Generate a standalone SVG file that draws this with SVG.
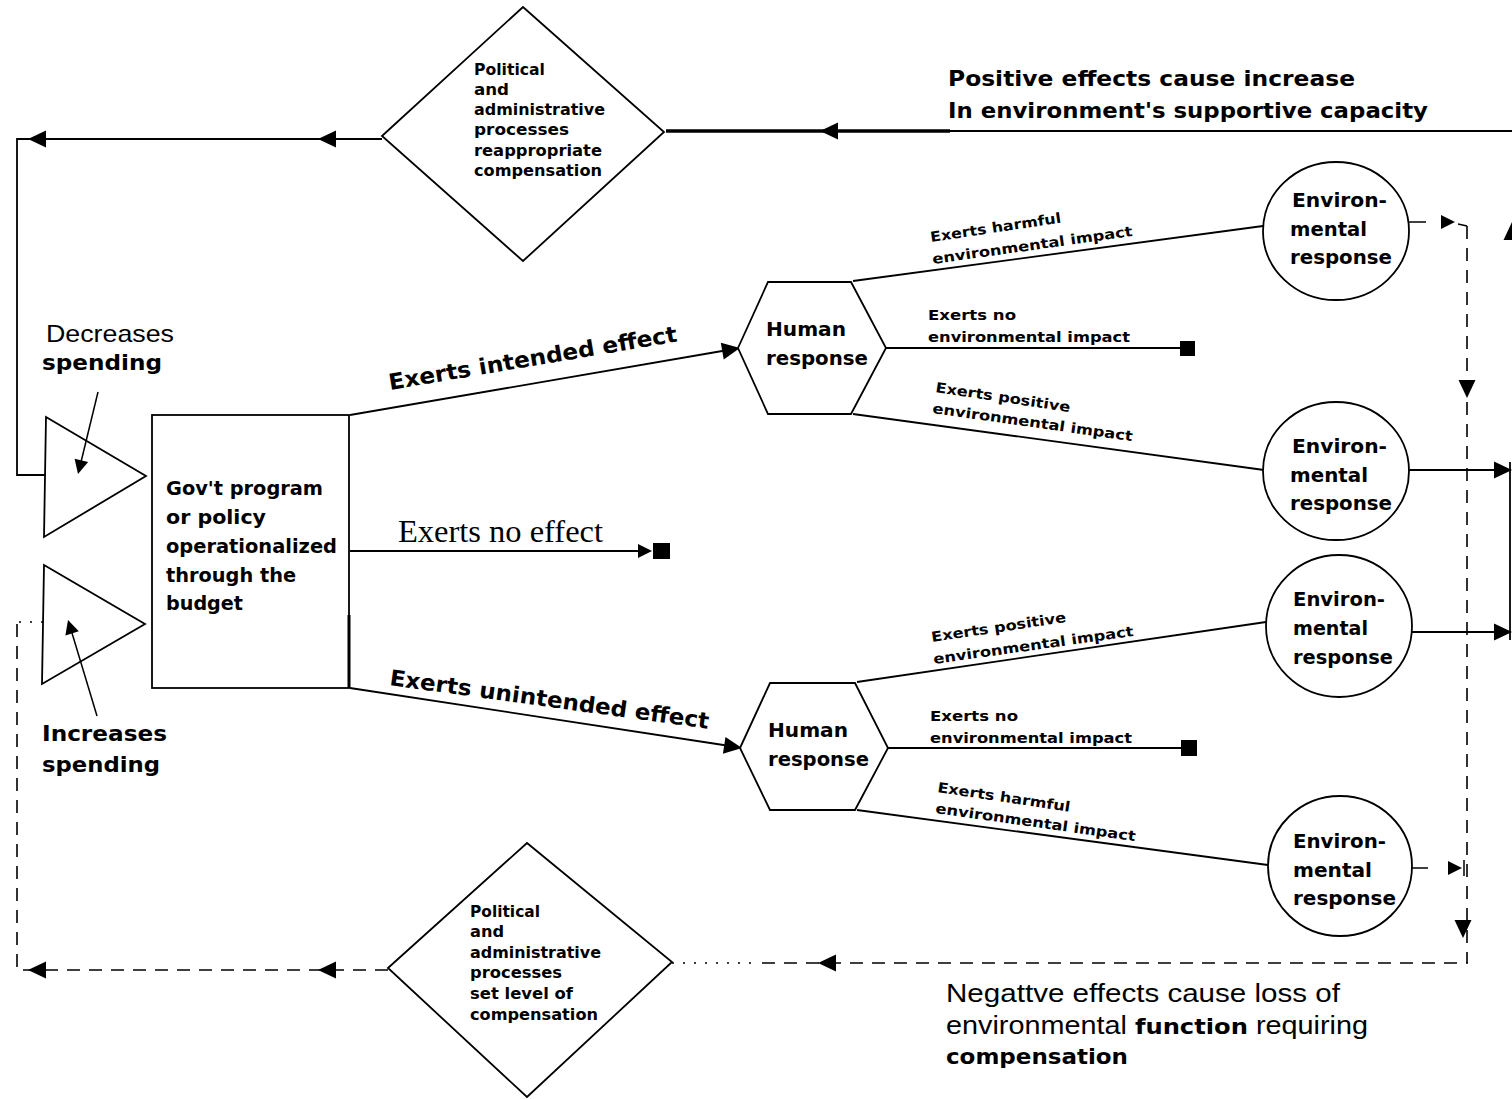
<svg xmlns="http://www.w3.org/2000/svg" xmlns:xlink="http://www.w3.org/1999/xlink" width="1512" height="1099" viewBox="0 0 1512 1099">
<style>
.ln{stroke:#000;stroke-width:1.8;fill:none}
.dash{stroke-dasharray:13 9}
.dot{stroke-dasharray:2 9}
.shape{fill:#fff;stroke:#000;stroke-width:1.8}
.b{font-family:"DejaVu Sans","Liberation Sans",sans-serif;font-weight:bold;fill:#000}
.r{font-family:"Liberation Sans",Arial,sans-serif;fill:#000}
.s{font-family:"Liberation Serif","Times New Roman",serif;fill:#000}
.dt{font-size:15px}
.nt{font-size:19px}
.bl{font-size:14px}
</style>
<defs>
<path id="ah" d="M0,0 L-18,-8.5 L-18,8.5 Z" fill="#000"/>
<path id="ahs" d="M0,0 L-14,-7 L-14,7 Z" fill="#000"/>
</defs>
<rect width="1512" height="1099" fill="#fff"/>

<g id="connectors">
  <!-- top feedback loop -->
  <polyline class="ln" points="382,139 17,139 17,475 45,475"/>
  <use href="#ah" transform="translate(28,139) rotate(180)"/>
  <use href="#ah" transform="translate(318,139) rotate(180)"/>
  <line class="ln" x1="666" y1="131" x2="950" y2="131" style="stroke-width:3.5"/>
  <line class="ln" x1="950" y1="131" x2="1512" y2="131"/>
  <use href="#ah" transform="translate(820,131) rotate(180)"/>
  <!-- bottom feedback loop -->
  <line class="ln dot" x1="43" y1="622" x2="17" y2="622" style="stroke-width:1.5"/>
  <polyline class="ln dash" points="17,624 17,970 388,970" style="stroke-width:1.6"/>
  <use href="#ah" transform="translate(28,970) rotate(180)"/>
  <use href="#ah" transform="translate(318,970) rotate(180)"/>
  <line class="ln dot" x1="672" y1="963" x2="760" y2="963" style="stroke-width:1.5"/>
  <line class="ln dash" x1="762" y1="963" x2="1468" y2="963" style="stroke-width:1.6"/>
  <use href="#ah" transform="translate(818,963) rotate(180)"/>
  <line class="ln dash" x1="1467" y1="226" x2="1467" y2="963" style="stroke-width:1.6"/>
  <!-- program outcomes -->
  <line class="ln" x1="350" y1="415" x2="728" y2="350"/>
  <use href="#ah" transform="translate(740,348) rotate(-9.8)"/>
  <line class="ln" x1="350" y1="551" x2="640" y2="551"/>
  <use href="#ahs" transform="translate(652,551)"/>
  <rect x="653" y="543" width="17" height="16" fill="#000"/>
  <line class="ln" x1="350" y1="688" x2="730" y2="746"/>
  <use href="#ah" transform="translate(742,748) rotate(8.7)"/>
  <!-- hexagon 1 branches -->
  <line class="ln" x1="853" y1="281" x2="1263" y2="226"/>
  <line class="ln" x1="886" y1="348" x2="1182" y2="348"/>
  <rect x="1180" y="341" width="15" height="15" fill="#000"/>
  <line class="ln" x1="853" y1="414" x2="1264" y2="470"/>
  <!-- hexagon 2 branches -->
  <line class="ln" x1="857" y1="682" x2="1266" y2="622"/>
  <line class="ln" x1="888" y1="748" x2="1183" y2="748"/>
  <rect x="1181" y="740" width="16" height="16" fill="#000"/>
  <line class="ln" x1="857" y1="810" x2="1268" y2="865"/>
  <!-- environmental response outputs -->
  <line class="ln" x1="1409" y1="222" x2="1426" y2="222" style="stroke-width:1.5"/>
  <use href="#ahs" transform="translate(1455,222)"/>
  <line class="ln" x1="1458" y1="224" x2="1467" y2="226" style="stroke-width:1.5"/>
  <use href="#ah" transform="translate(1467,398) rotate(90)"/>
  <line class="ln" x1="1409" y1="470" x2="1498" y2="470"/>
  <use href="#ah" transform="translate(1512,470)"/>
  <line class="ln" x1="1412" y1="632" x2="1498" y2="632"/>
  <use href="#ah" transform="translate(1512,632)"/>
  <line class="ln" x1="1510" y1="462" x2="1510" y2="640"/>
  <use href="#ah" transform="translate(1512,222) rotate(-90)"/>
  <line class="ln" x1="1412" y1="868" x2="1428" y2="868" style="stroke-width:1.5"/>
  <use href="#ahs" transform="translate(1462,868)"/>
  <line class="ln" x1="1464" y1="860" x2="1464" y2="876" style="stroke-width:1.5"/>
  <use href="#ah" transform="translate(1463,938) rotate(90)"/>

  <!-- connector labels -->
  <text class="b" font-size="22" textLength="292" lengthAdjust="spacingAndGlyphs" transform="translate(390,390) rotate(-9.6)">Exerts intended effect</text>
  <text class="s" x="398" y="542" font-size="31" textLength="205" lengthAdjust="spacingAndGlyphs">Exerts no effect</text>
  <text class="b" font-size="22" textLength="322" lengthAdjust="spacingAndGlyphs" transform="translate(389,685) rotate(7.8)">Exerts unintended effect</text>

  <text class="b bl" textLength="132" lengthAdjust="spacingAndGlyphs" transform="translate(931,242) rotate(-8.5)">Exerts harmful</text>
  <text class="b bl" textLength="202" lengthAdjust="spacingAndGlyphs" transform="translate(933,264) rotate(-8)">environmental impact</text>
  <text class="b bl" x="928" y="320" textLength="88" lengthAdjust="spacingAndGlyphs">Exerts no</text>
  <text class="b bl" x="928" y="342" textLength="202" lengthAdjust="spacingAndGlyphs">environmental impact</text>
  <text class="b bl" textLength="136" lengthAdjust="spacingAndGlyphs" transform="translate(935,392) rotate(8.5)">Exerts positive</text>
  <text class="b bl" textLength="202" lengthAdjust="spacingAndGlyphs" transform="translate(932,413) rotate(8)">environmental impact</text>

  <text class="b bl" textLength="136" lengthAdjust="spacingAndGlyphs" transform="translate(932,642) rotate(-8.5)">Exerts positive</text>
  <text class="b bl" textLength="202" lengthAdjust="spacingAndGlyphs" transform="translate(934,664) rotate(-8)">environmental impact</text>
  <text class="b bl" x="930" y="721" textLength="88" lengthAdjust="spacingAndGlyphs">Exerts no</text>
  <text class="b bl" x="930" y="743" textLength="202" lengthAdjust="spacingAndGlyphs">environmental impact</text>
  <text class="b bl" textLength="134" lengthAdjust="spacingAndGlyphs" transform="translate(937,792) rotate(8.5)">Exerts harmful</text>
  <text class="b bl" textLength="202" lengthAdjust="spacingAndGlyphs" transform="translate(935,813) rotate(8)">environmental impact</text>

  <text class="b" x="948" y="86" font-size="22" textLength="407" lengthAdjust="spacingAndGlyphs">Positive effects cause increase</text>
  <text class="b" x="948" y="118" font-size="22" textLength="480" lengthAdjust="spacingAndGlyphs">In environment's supportive capacity</text>

  <text class="r" x="946" y="1002" font-size="25" textLength="394" lengthAdjust="spacingAndGlyphs">Negattve effects cause loss of</text>
  <text class="r" x="946" y="1034" font-size="25" textLength="422" lengthAdjust="spacingAndGlyphs">environmental <tspan class="b" font-size="21">function</tspan> requiring</text>
  <text class="b" x="946" y="1064" font-size="21" textLength="182" lengthAdjust="spacingAndGlyphs">compensation</text>

  <text class="r" x="46" y="342" font-size="24" textLength="128" lengthAdjust="spacingAndGlyphs">Decreases</text>
  <text class="b" x="42" y="370" font-size="21" textLength="120" lengthAdjust="spacingAndGlyphs">spending</text>
  <text class="b" x="42" y="741" font-size="21" textLength="125" lengthAdjust="spacingAndGlyphs">Increases</text>
  <text class="b" x="42" y="772" font-size="21" textLength="118" lengthAdjust="spacingAndGlyphs">spending</text>
</g>

<g id="diamond-top">
  <polygon class="shape" points="382,136 523,7 664,132 523,261"/>
  <text class="b dt" x="474" y="75" textLength="71" lengthAdjust="spacingAndGlyphs">Political</text>
  <text class="b dt" x="474" y="95" textLength="35" lengthAdjust="spacingAndGlyphs">and</text>
  <text class="b dt" x="474" y="115" textLength="131" lengthAdjust="spacingAndGlyphs">administrative</text>
  <text class="b dt" x="474" y="135" textLength="95" lengthAdjust="spacingAndGlyphs">processes</text>
  <text class="b dt" x="474" y="156" textLength="128" lengthAdjust="spacingAndGlyphs">reappropriate</text>
  <text class="b dt" x="474" y="176" textLength="128" lengthAdjust="spacingAndGlyphs">compensation</text>
</g>

<g id="diamond-bottom">
  <polygon class="shape" points="388,968 527,843 672,962 527,1097"/>
  <text class="b dt" x="470" y="917" textLength="70" lengthAdjust="spacingAndGlyphs">Political</text>
  <text class="b dt" x="470" y="937" textLength="34" lengthAdjust="spacingAndGlyphs">and</text>
  <text class="b dt" x="470" y="958" textLength="131" lengthAdjust="spacingAndGlyphs">administrative</text>
  <text class="b dt" x="470" y="978" textLength="92" lengthAdjust="spacingAndGlyphs">processes</text>
  <text class="b dt" x="470" y="999" textLength="103" lengthAdjust="spacingAndGlyphs">set level of</text>
  <text class="b dt" x="470" y="1020" textLength="128" lengthAdjust="spacingAndGlyphs">compensation</text>
</g>

<g id="tri-decrease">
  <polygon class="shape" points="46,417 146,476 44,537"/>
</g>
<g id="tri-increase">
  <polygon class="shape" points="44,565 145,624 42,684"/>
</g>

<g id="spending-pointers">
  <line class="ln" x1="98" y1="392" x2="81" y2="462" style="stroke-width:1.5"/>
  <use href="#ahs" transform="translate(78,474) rotate(104)"/>
  <line class="ln" x1="97" y1="716" x2="72" y2="633" style="stroke-width:1.5"/>
  <use href="#ahs" transform="translate(68,620) rotate(253)"/>
</g>

<g id="program-box">
  <rect class="shape" x="152" y="415" width="197" height="273"/>
  <line class="ln" x1="349" y1="615" x2="349" y2="688" style="stroke-width:3"/>
  <text class="b nt" x="166" y="495" textLength="157" lengthAdjust="spacingAndGlyphs">Gov't program</text>
  <text class="b nt" x="166" y="524" textLength="100" lengthAdjust="spacingAndGlyphs">or policy</text>
  <text class="b nt" x="166" y="553" textLength="171" lengthAdjust="spacingAndGlyphs">operationalized</text>
  <text class="b nt" x="166" y="582" textLength="130" lengthAdjust="spacingAndGlyphs">through the</text>
  <text class="b nt" x="166" y="610" textLength="77" lengthAdjust="spacingAndGlyphs">budget</text>
</g>

<g id="hex-1">
  <polygon class="shape" points="738,348 768,282 851,282 886,348 851,414 768,414"/>
  <text class="b nt" x="766" y="336" textLength="80" lengthAdjust="spacingAndGlyphs">Human</text>
  <text class="b nt" x="766" y="365" textLength="102" lengthAdjust="spacingAndGlyphs">response</text>
</g>
<g id="hex-2">
  <polygon class="shape" points="740,748 770,683 855,683 888,748 855,810 770,810"/>
  <text class="b nt" x="768" y="737" textLength="80" lengthAdjust="spacingAndGlyphs">Human</text>
  <text class="b nt" x="768" y="766" textLength="101" lengthAdjust="spacingAndGlyphs">response</text>
</g>

<g id="env-1">
  <ellipse class="shape" cx="1336" cy="231" rx="73" ry="69"/>
  <text class="b nt" x="1292" y="207" textLength="95" lengthAdjust="spacingAndGlyphs">Environ-</text>
  <text class="b nt" x="1290" y="236" textLength="77" lengthAdjust="spacingAndGlyphs">mental</text>
  <text class="b nt" x="1290" y="264" textLength="102" lengthAdjust="spacingAndGlyphs">response</text>
</g>
<g id="env-2">
  <ellipse class="shape" cx="1336" cy="471" rx="73" ry="69"/>
  <text class="b nt" x="1292" y="453" textLength="95" lengthAdjust="spacingAndGlyphs">Environ-</text>
  <text class="b nt" x="1290" y="482" textLength="78" lengthAdjust="spacingAndGlyphs">mental</text>
  <text class="b nt" x="1290" y="510" textLength="102" lengthAdjust="spacingAndGlyphs">response</text>
</g>
<g id="env-3">
  <ellipse class="shape" cx="1339" cy="626" rx="73" ry="71"/>
  <text class="b nt" x="1293" y="606" textLength="92" lengthAdjust="spacingAndGlyphs">Environ-</text>
  <text class="b nt" x="1293" y="635" textLength="75" lengthAdjust="spacingAndGlyphs">mental</text>
  <text class="b nt" x="1293" y="664" textLength="100" lengthAdjust="spacingAndGlyphs">response</text>
</g>
<g id="env-4">
  <ellipse class="shape" cx="1340" cy="866" rx="72" ry="70"/>
  <text class="b nt" x="1293" y="848" textLength="93" lengthAdjust="spacingAndGlyphs">Environ-</text>
  <text class="b nt" x="1293" y="877" textLength="79" lengthAdjust="spacingAndGlyphs">mental</text>
  <text class="b nt" x="1293" y="905" textLength="103" lengthAdjust="spacingAndGlyphs">response</text>
</g>
</svg>
